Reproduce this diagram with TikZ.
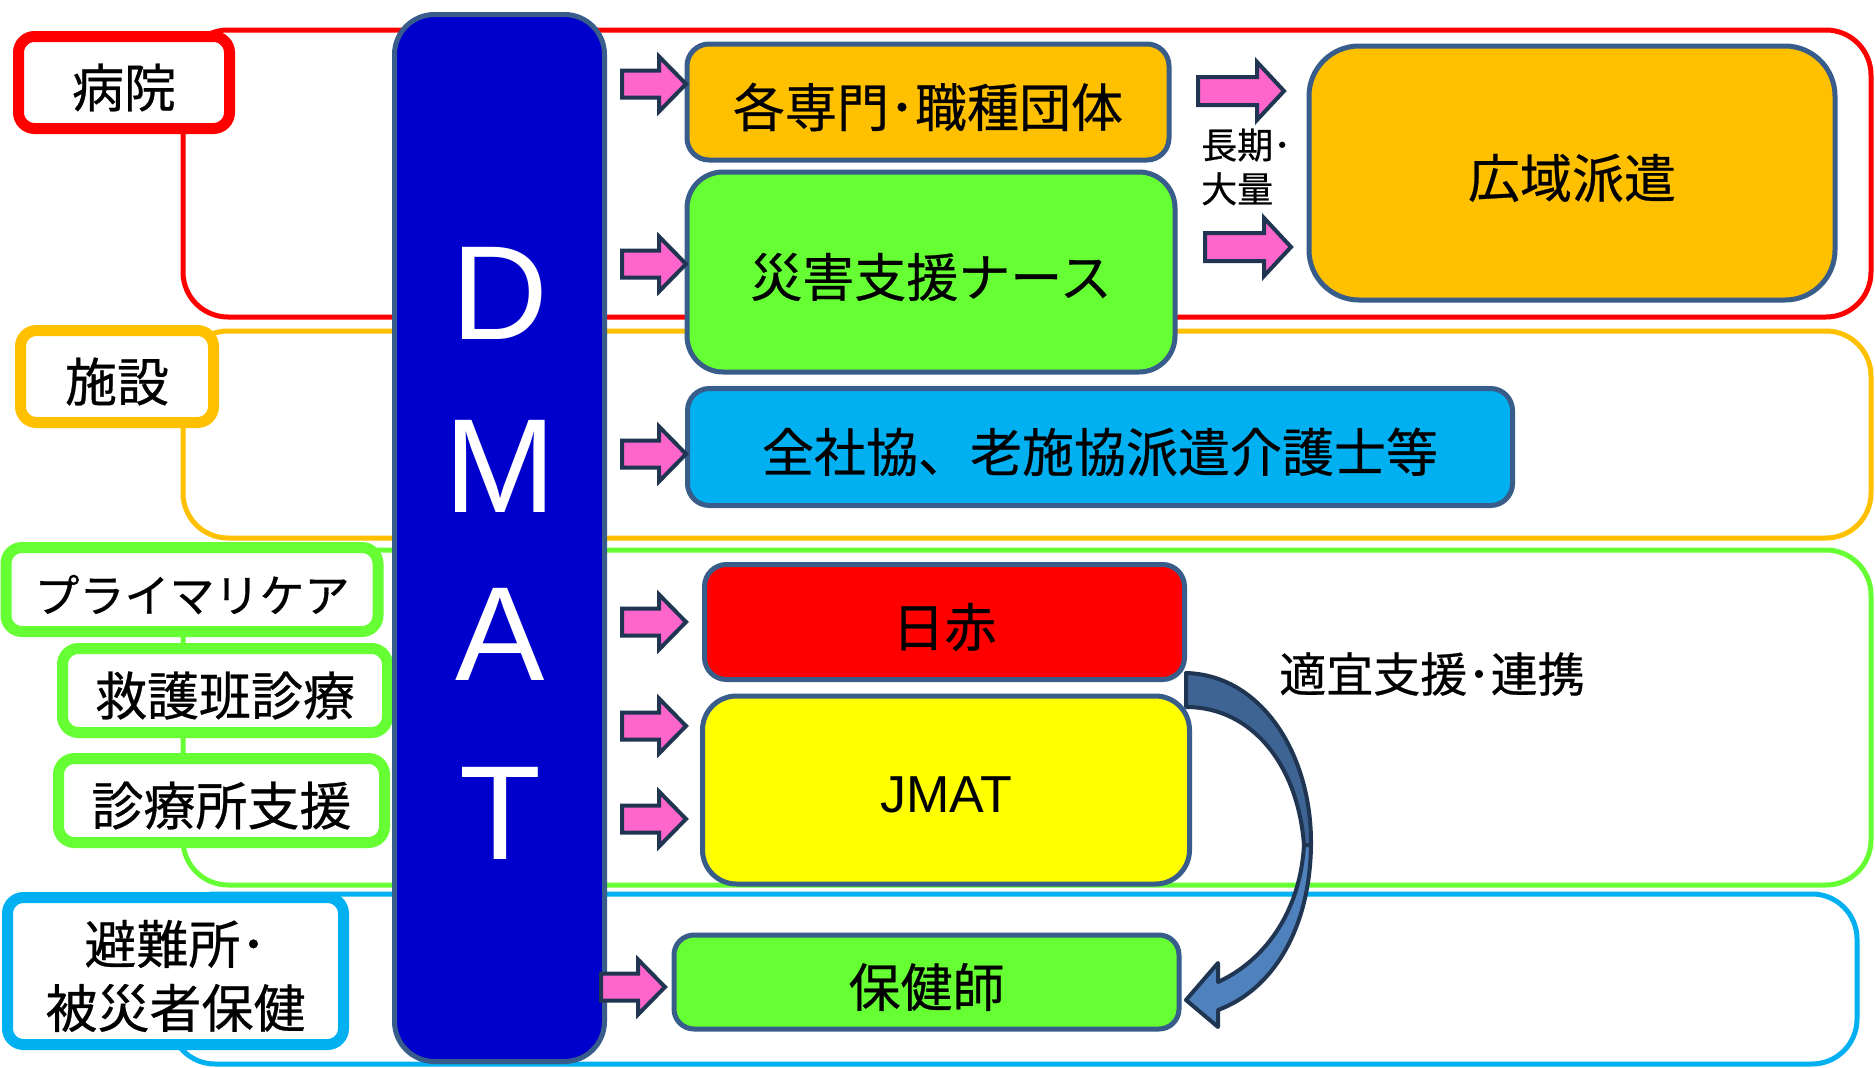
\documentclass[tikz,border=0pt]{standalone}
\usepackage{fontspec}
\setmainfont{Noto Sans CJK JP}[FakeBold=0.5]
\newfontfamily\latinsf{Liberation Sans}
\definecolor{cred}{HTML}{FF0000}
\definecolor{corange}{HTML}{FFC000}
\definecolor{cgreen}{HTML}{66FF33}
\definecolor{ccyan}{HTML}{00B0F0}
\definecolor{cyel}{HTML}{FFFF00}
\definecolor{cdmat}{HTML}{0000CC}
\definecolor{cedge}{HTML}{385D8A}
\definecolor{cpink}{HTML}{FF66CC}
\definecolor{cnavy}{HTML}{1F3552}
\definecolor{cdark}{HTML}{3E6494}
\definecolor{clight}{HTML}{4F81BD}
\newcommand\pinkarr[5]{% tail x, y, tip x, shaft half, head half
  \draw[pinkarrow] (#1,#2-#4) -- (#3-27,#2-#4) -- (#3-27,#2-#5) -- (#3,#2)
    -- (#3-27,#2+#5) -- (#3-27,#2+#4) -- (#1,#2+#4) -- cycle;}
\begin{document}
\begin{tikzpicture}[x=1pt,y=-1pt,
  group/.style={draw=#1, line width=5pt, rounded corners=45pt},
  labelbox/.style={draw=#1, fill=white, line width=11pt, rounded corners=16pt, inner sep=0pt},
  mainbox/.style={draw=cedge, line width=5pt, fill=#1, inner sep=0pt},
  boxtext/.style={inner sep=0pt, yshift=-5pt, align=center, font=\fontsize{52}{64}\selectfont},
  dmatletter/.style={text=white, inner sep=0pt, font=\latinsf\fontsize{134}{134}\selectfont},
  pinkarrow/.style={draw=cnavy, fill=cpink, line width=4pt},
  curvedark/.style={draw=cnavy, fill=cdark, line width=4pt, line join=round},
  curvelight/.style={draw=cnavy, fill=clight, line width=4pt, line join=round}
]
\useasboundingbox (0,0) rectangle (1875,1068);
\fill[white] (0,0) rectangle (1875,1068);

% group outlines
\draw[group=cred]    (183,30)  rectangle (1871,317);
\draw[group=corange] (183,331) rectangle (1871,538);
\draw[group=cgreen]  (183,550) rectangle (1871,885);
\draw[group=ccyan]   (170,894) rectangle (1857,1064);

% category labels
\node[labelbox=cred, minimum width=211pt, minimum height=92pt] (byoin) at (124,82.5) {};
\node[boxtext] (byoin-t) at (byoin) {病院};
\node[labelbox=corange, minimum width=193pt, minimum height=92pt] (shisetsu) at (117,376.5) {};
\node[boxtext] (shisetsu-t) at (shisetsu) {施設};
\node[labelbox=cgreen, minimum width=372pt, minimum height=84pt] (primary) at (192,589.5) {};
\node[boxtext, font=\fontsize{45}{54}\selectfont] (primary-t) at (primary) {プライマリケア};
\node[labelbox=cgreen, minimum width=325pt, minimum height=84pt] (kyugo) at (225,690.5) {};
\node[boxtext] (kyugo-t) at (kyugo) {救護班診療};
\node[labelbox=cgreen, minimum width=326pt, minimum height=84pt] (shinryo) at (221.5,800.5) {};
\node[boxtext] (shinryo-t) at (shinryo) {診療所支援};
\node[labelbox=ccyan, minimum width=336pt, minimum height=147pt] (hinan) at (175.5,971) {};
\node[boxtext] (hinan-t) at (hinan) {避難所･\\被災者保健};

% DMAT column
\node[draw=cedge, line width=5pt, fill=cdmat, rounded corners=40pt,
  minimum width=210pt, minimum height=1047pt, inner sep=0pt] (dmat) at (499.5,538) {};
\node[dmatletter] (dD) at (500,293) {D};
\node[dmatletter] (dM) at (500,466) {M};
\node[dmatletter] (dA) at (500,634) {A};
\node[dmatletter] (dT) at (500,813) {T};

% main boxes
\node[mainbox=corange, rounded corners=22pt, minimum width=482pt, minimum height=116pt] (senmon) at (928,102) {};
\node[boxtext] (senmon-t) at (senmon) {各専門･職種団体};
\node[mainbox=cgreen, rounded corners=36pt, minimum width=488pt, minimum height=200pt] (nurse) at (931,272) {};
\node[boxtext] (nurse-t) at (nurse) {災害支援ナース};
\node[mainbox=corange, rounded corners=50pt, minimum width=526pt, minimum height=254pt] (koiki) at (1572,173) {};
\node[boxtext] (koiki-t) at (koiki) {広域派遣};
\node[mainbox=ccyan, rounded corners=22pt, minimum width=825pt, minimum height=117pt] (zensha) at (1100,447) {};
\node[boxtext] (zensha-t) at (zensha) {全社協、老施協派遣介護士等};
\node[mainbox=cred, rounded corners=22pt, minimum width=480pt, minimum height=115pt] (nisseki) at (944.5,622) {};
\node[boxtext] (nisseki-t) at (nisseki) {日赤};
\node[mainbox=cyel, rounded corners=34pt, minimum width=487pt, minimum height=188pt] (jmat) at (946,790) {};
\node[boxtext, font=\latinsf\fontsize{52}{62}\selectfont] (jmat-t) at (jmat) {JMAT};
\node[mainbox=cgreen, rounded corners=20pt, minimum width=505pt, minimum height=94pt] (hokenshi) at (926.5,982) {};
\node[boxtext] (hokenshi-t) at (hokenshi) {保健師};

% free texts
\node[anchor=west, align=left, inner sep=0pt, font=\fontsize{36}{44}\selectfont] (choki) at (1201,167) {長期･\\大量};
\node[inner sep=0pt, font=\fontsize{47}{56}\selectfont] (tekigi) at (1432,674) {適宜支援･連携};

% pink block arrows
\pinkarr{622}{84}{686}{13.5}{27.5}
\pinkarr{622}{264}{686}{13.5}{27.5}
\pinkarr{622}{454}{686}{13.5}{27.5}
\pinkarr{622}{622}{686}{13.5}{27.5}
\pinkarr{622}{726}{686}{13.5}{27.5}
\pinkarr{622}{819}{686}{13.5}{27.5}
\pinkarr{601}{987}{665}{13.5}{27.5}
\pinkarr{1198}{91}{1284}{14}{29}
\pinkarr{1205}{247}{1291}{14}{29}

% curved arrow from 日赤/JMAT to 保健師
\draw[curvedark] (1186,673) .. controls (1262,675) and (1312,755) .. (1311,845)
  -- (1304,845) .. controls (1298,765) and (1252,707) .. (1186,707) -- cycle;
\draw[curvelight] (1311,845) .. controls (1310,930) and (1272,990) .. (1218,1010)
  -- (1218,1027) -- (1186,1000) -- (1218,963) -- (1218,982)
  .. controls (1262,962) and (1300,915) .. (1304,845) -- cycle;
\end{tikzpicture}
\end{document}
